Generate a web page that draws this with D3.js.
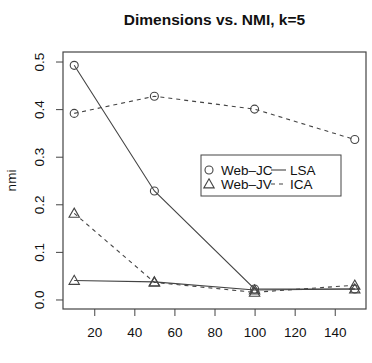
<!DOCTYPE html>
<html>
<head>
<meta charset="utf-8">
<title>Dimensions vs. NMI</title>
<script src="https://cdnjs.cloudflare.com/ajax/libs/d3/7.8.5/d3.min.js"></script>
<style>
  body { margin: 0; background: #fff; }
  text { font-family: "Liberation Sans", Arial, sans-serif; fill: #111; }
</style>
</head>
<body>
<script>
    var dims = [10, 50, 100, 150];
    var jcLsa = [0.492, 0.228, 0.022, 0.022];
    var jcIca = [0.391, 0.427, 0.400, 0.336];
    var jvLsa = [0.040, 0.037, 0.020, 0.022];
    var jvIca = [0.181, 0.036, 0.015, 0.030];
    var xTicks = [20, 40, 60, 80, 100, 120, 140];
    var yTicks = [0, 0.1, 0.2, 0.3, 0.4, 0.5];

    var w = 372, h = 363;
    var boxL = 63, boxR = 366, boxT = 52, boxB = 309;
    var ink = "#444";

    var svg = d3.select("body").append("svg")
        .attr("width", w)
        .attr("height", h);

    var x = d3.scaleLinear().domain([4.4, 155.6]).range([boxL, boxR]);
    var y = d3.scaleLinear().domain([-0.02, 0.52]).range([boxB, boxT]);

    // title
    svg.append("text")
        .attr("x", (boxL + boxR) / 2)
        .attr("y", 25)
        .attr("text-anchor", "middle")
        .style("font-weight", "bold")
        .style("font-size", "15.5px")
        .text("Dimensions vs. NMI, k=5");

    // axes
    var xAxis = svg.append("g")
        .attr("transform", "translate(0," + boxB + ")")
        .call(d3.axisBottom(x).tickValues(xTicks).tickSize(7).tickPadding(11));
    var yAxis = svg.append("g")
        .attr("transform", "translate(" + boxL + ",0)")
        .call(d3.axisLeft(y).tickValues(yTicks).tickSize(7).tickFormat(d3.format(".1f")));

    [xAxis, yAxis].forEach(function(g) {
        g.select(".domain").remove();
        g.selectAll(".tick line").attr("stroke", ink);
        g.selectAll(".tick text")
            .style("font-size", "13.5px")
            .style("font-family", "'Liberation Sans', Arial, sans-serif")
            .attr("fill", "#111");
    });
    yAxis.selectAll(".tick text")
        .attr("x", null)
        .attr("text-anchor", "middle")
        .attr("transform", "translate(-24,0) rotate(-90)")
        .attr("y", 0)
        .attr("dy", "0.35em");

    // box
    svg.append("rect")
        .attr("x", boxL).attr("y", boxT)
        .attr("width", boxR - boxL).attr("height", boxB - boxT)
        .attr("fill", "none").attr("stroke", ink).attr("stroke-width", 1.2);

    // axis titles
    svg.append("text")
        .attr("transform", "translate(16," + ((boxT + boxB) / 2) + ") rotate(-90)")
        .attr("text-anchor", "middle")
        .style("font-size", "13.5px")
        .text("nmi");
    svg.append("text")
        .attr("x", (boxL + boxR) / 2)
        .attr("y", 372)
        .attr("text-anchor", "middle")
        .style("font-size", "13.5px")
        .text("Dimensions");

    var series = [
        { vals: jcIca, dash: "4,4", pch: "circle" },
        { vals: jvIca, dash: "4,4", pch: "triangle" },
        { vals: jvLsa, dash: null, pch: "triangle" },
        { vals: jcLsa, dash: null, pch: "circle" }
    ];

    var line = d3.line()
        .x(function(d) { return x(d[0]); })
        .y(function(d) { return y(d[1]); });

    function drawPch(g, type, cx, cy) {
        if (type === "circle") {
            g.append("circle").attr("cx", cx).attr("cy", cy).attr("r", 4)
                .attr("fill", "none").attr("stroke", ink).attr("stroke-width", 1.1);
        } else {
            var s = 5.2;
            g.append("path")
                .attr("d", "M" + cx + "," + (cy - s) + "L" + (cx + s) + "," + (cy + s * 0.75) +
                           "L" + (cx - s) + "," + (cy + s * 0.75) + "Z")
                .attr("fill", "none").attr("stroke", ink).attr("stroke-width", 1.1);
        }
    }

    series.forEach(function(s) {
        var pts = dims.map(function(d, i) { return [d, s.vals[i]]; });
        svg.append("path")
            .attr("d", line(pts))
            .attr("fill", "none")
            .attr("stroke", ink)
            .attr("stroke-width", 1.1)
            .attr("stroke-dasharray", s.dash);
        var g = svg.append("g");
        pts.forEach(function(p) { drawPch(g, s.pch, x(p[0]), y(p[1])); });
    });

    // legend
    var lg = svg.append("g");
    lg.append("rect")
        .attr("x", 201).attr("y", 155).attr("width", 140).attr("height", 41)
        .attr("fill", "#fff").attr("stroke", ink).attr("stroke-width", 1);
    var rows = [
        { name: "Web\u2013JC", pch: "circle", dash: null, method: "LSA", cy: 170 },
        { name: "Web\u2013JV", pch: "triangle", dash: "4,4", method: "ICA", cy: 184 }
    ];
    rows.forEach(function(r) {
        drawPch(lg, r.pch, 209, r.cy);
        lg.append("text").attr("x", 221).attr("y", r.cy + 5)
            .style("font-size", "13.5px").text(r.name);
        lg.append("line")
            .attr("x1", 271).attr("x2", 286).attr("y1", r.cy).attr("y2", r.cy)
            .attr("stroke", ink).attr("stroke-width", 1.1)
            .attr("stroke-dasharray", r.dash);
        lg.append("text").attr("x", 290).attr("y", r.cy + 5)
            .style("font-size", "13.5px").text(r.method);
    });
</script>
</body>
</html>
